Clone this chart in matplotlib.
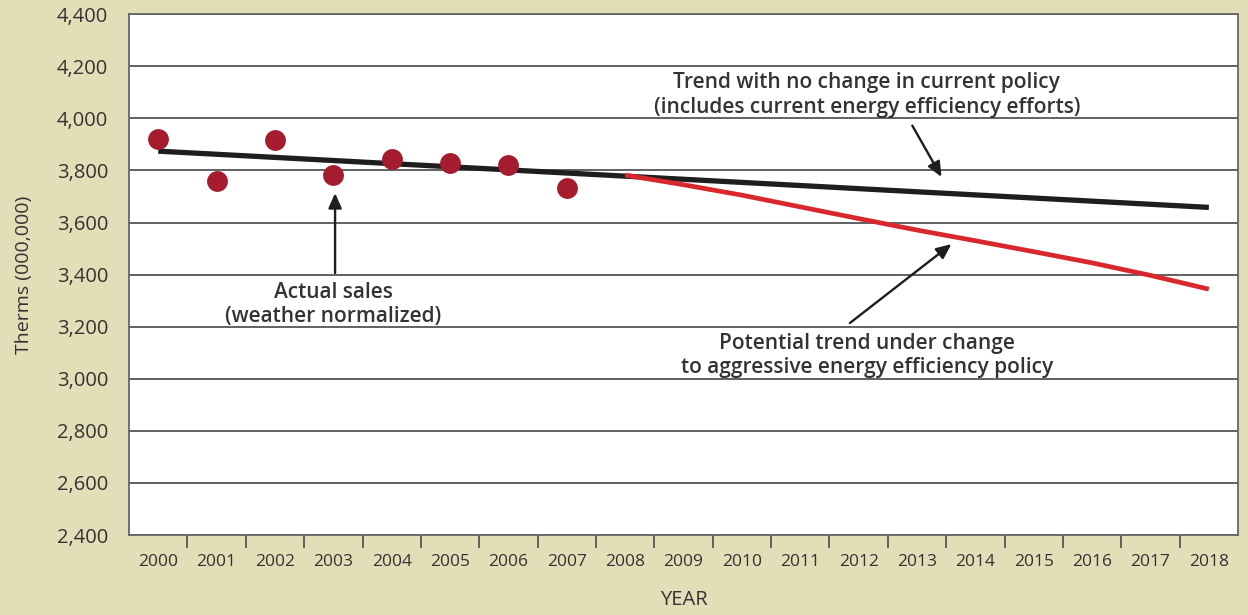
import matplotlib
matplotlib.use("Agg")
import matplotlib.pyplot as plt
from matplotlib.ticker import FixedLocator, FuncFormatter

# ---- data ----
years = [str(y) for y in range(2000, 2019)]
actual_years = ["2000", "2001", "2002", "2003", "2004", "2005", "2006", "2007"]
actual_sales = [3920, 3759, 3916, 3782, 3843, 3828, 3820, 3732]

trend_years = years
trend_values = [3874, 3862, 3850, 3838, 3826, 3814, 3802, 3790, 3778, 3766,
                3754, 3742, 3730, 3718, 3706, 3694, 3682, 3670, 3658]

policy_years = ["2008", "2009", "2010", "2011", "2012", "2013",
                "2014", "2015", "2016", "2017", "2018"]
policy_values = [3782, 3745, 3705, 3660, 3615, 3571, 3530, 3488, 3445, 3397, 3344]

y_ticks = list(range(2400, 4401, 200))

# ---- style ----
BG = "#e3ddb8"
TXT = "#333333"
FONT = "Open Sans"
plt.rcParams["font.family"] = [FONT, "DejaVu Sans"]

fig = plt.figure(figsize=(12.48, 6.15), dpi=100, facecolor=BG)
ax = fig.add_axes([0.1034, 0.130, 0.8886, 0.847])
ax.set_facecolor("white")

idx = {y: i for i, y in enumerate(years)}

ax.set_xlim(-0.5, len(years) - 0.5)
ax.set_ylim(y_ticks[0], y_ticks[-1])

# gridlines
for v in y_ticks:
    ax.axhline(v, color="#555555", lw=1.3, zorder=1)

# lines
ax.plot([idx[y] for y in trend_years], trend_values, color="#1e1e1e", lw=3.8,
        solid_capstyle="butt", zorder=3)
ax.plot([idx[y] for y in policy_years], policy_values, color="#d9272e", lw=3.4,
        solid_capstyle="butt", zorder=4)
ax.plot([idx[y] for y in actual_years], actual_sales, "o", color="#a51c2f",
        markersize=15, markeredgewidth=0, zorder=5)

# axes
ax.set_yticks(y_ticks)
ax.yaxis.set_major_formatter(FuncFormatter(lambda v, p: f"{int(v):,}"))
ax.tick_params(axis="y", length=0, pad=15, labelsize=14.5, labelcolor=TXT)

ax.xaxis.set_major_locator(FixedLocator([i + 0.5 for i in range(len(years) - 1)]))
ax.xaxis.set_major_formatter(FuncFormatter(lambda v, p: ""))
ax.xaxis.set_minor_locator(FixedLocator(list(range(len(years)))))
ax.set_xticklabels(years, minor=True)
ax.tick_params(axis="x", which="major", length=9, width=1.3, color="#555555")
ax.tick_params(axis="x", which="minor", length=0, pad=14, labelsize=12.5,
               labelcolor=TXT)

for s in ["left", "right", "bottom", "top"]:
    ax.spines[s].set_color("#666666")
    ax.spines[s].set_linewidth(1.3)

ax.set_ylabel("Therms (000,000)", fontsize=14, color=TXT, labelpad=17)
ax.set_xlabel("YEAR", fontsize=14.5, color=TXT, labelpad=14)

# annotations
tkw = dict(fontsize=15, fontweight="semibold", color=TXT, ha="center",
           va="center", linespacing=1.22, zorder=6)
akw = dict(arrowstyle="-|>,head_length=0.9,head_width=0.4", color="#1e1e1e",
           lw=1.7, shrinkA=0, shrinkB=0)

ax.text(12.14, 4090, "Trend with no change in current policy\n"
        "(includes current energy efficiency efforts)", **tkw)
ax.annotate("", xy=(13.42, 3775), xytext=(12.92, 3972), arrowprops=akw, zorder=6)

ax.text(3.0, 3285, "Actual sales\n(weather normalized)", **tkw)
ax.annotate("", xy=(3.03, 3713), xytext=(3.03, 3406), arrowprops=akw, zorder=6)

ax.text(12.14, 3090, "Potential trend under change\n"
        "to aggressive energy efficiency policy", **tkw)
ax.annotate("", xy=(13.59, 3517), xytext=(11.85, 3214), arrowprops=akw, zorder=6)

fig.savefig("out.png", dpi=100, facecolor=BG)
